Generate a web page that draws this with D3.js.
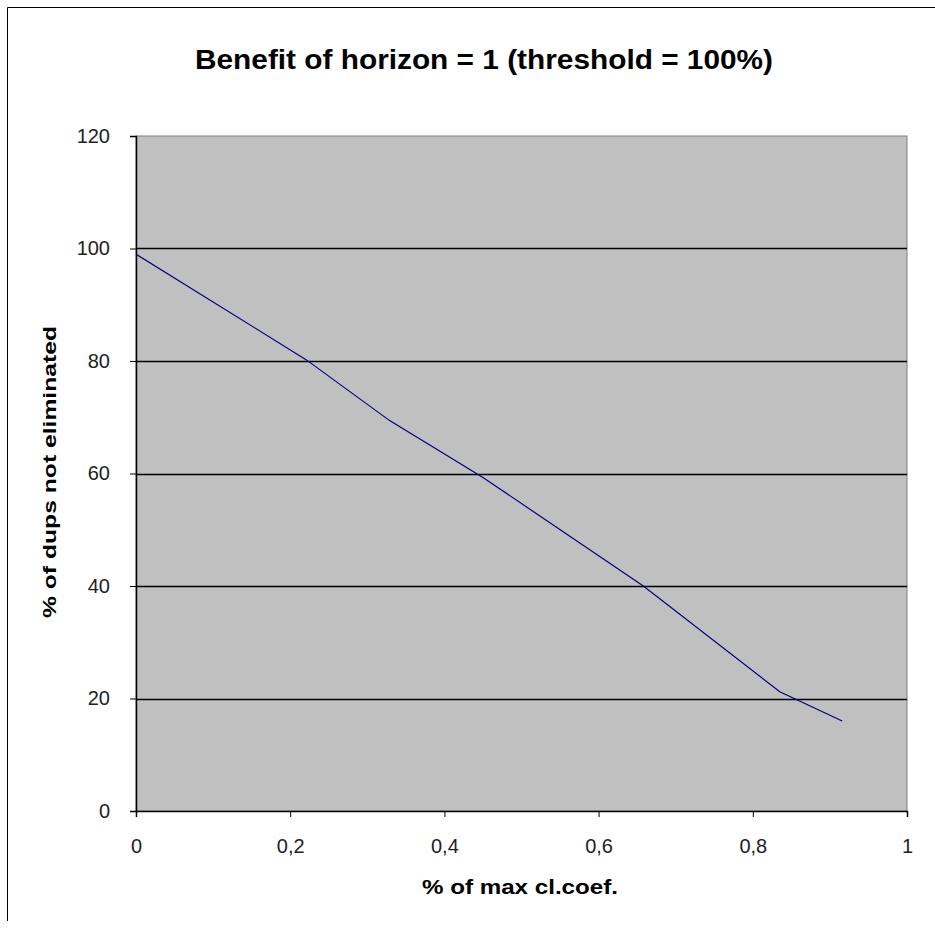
<!DOCTYPE html>
<html>
<head>
<meta charset="utf-8">
<script src="https://cdn.jsdelivr.net/npm/d3@7"></script>
<style>
  body { margin: 0; background: #fff; }
  text { font-family: "Liberation Sans", Arial, sans-serif; }
</style>
</head>
<body>
<svg id="chart" width="935" height="928"></svg>
<script>
// values
const clCoef = [0, 0.221, 0.329, 0.45, 0.658, 0.835, 0.916]
const dupsLeft = [99, 80.2, 69.4, 59.3, 40, 21.2, 16]
const xTicks = [0, 0.2, 0.4, 0.6, 0.8, 1]
const yTicks = [0, 20, 40, 60, 80, 100, 120]

const svg = d3.select('#chart')

// outer frame (only left and top are visible in the picture)
svg.append('path')
    .attr('d', 'M7.5,921 L7.5,7.5 L935,7.5')
    .attr('fill', 'none')
    .attr('stroke', '#000')

const x = d3.scaleLinear().domain([0, 1]).range([136, 907])
const y = d3.scaleLinear().domain([0, 120]).range([811, 136])

// plot area
svg.append('rect')
    .attr('x', x(0)).attr('y', y(120))
    .attr('width', x(1) - x(0)).attr('height', y(0) - y(120))
    .attr('fill', '#c0c0c0')
    .attr('stroke', '#808080')

// grid lines
svg.append('g')
    .selectAll('line')
    .data(yTicks.filter(d => d > 0 && d < 120))
    .enter()
    .append('line')
        .attr('x1', x(0)).attr('x2', x(1))
        .attr('y1', d => Math.round(y(d)) + 0.5)
        .attr('y2', d => Math.round(y(d)) + 0.5)
        .attr('stroke', '#000')
        .attr('stroke-width', 1.5)

const fmt = d => d === 0 ? '0' : d === 1 ? '1' : d3.format('.1f')(d).replace('.', ',')

// x axis
const xaxis = d3.axisBottom(x).tickValues(xTicks).tickFormat(fmt).tickSize(6).tickPadding(22)
const gx = svg.append('g')
    .attr('transform', 'translate(0,' + y(0) + ')')
    .call(xaxis)
gx.select('.domain').attr('stroke', '#000').attr('stroke-width', 1.5)
gx.selectAll('text').attr('font-size', 20).attr('fill', '#222')
    .style('font-family', '"Liberation Sans Narrow", "Liberation Sans", Arial, sans-serif')

// y axis
const yaxis = d3.axisLeft(y).tickValues(yTicks).tickSize(6).tickPadding(20)
const gy = svg.append('g')
    .attr('transform', 'translate(' + x(0) + ',0)')
    .call(yaxis)
gy.select('.domain').attr('stroke', '#000').attr('stroke-width', 1.5)
gy.selectAll('text').attr('font-size', 20).attr('fill', '#222')
    .style('font-family', '"Liberation Sans Narrow", "Liberation Sans", Arial, sans-serif')

// the series
const line = d3.line()
    .x((d, i) => x(clCoef[i]))
    .y(d => y(d))
svg.append('path')
    .datum(dupsLeft)
    .attr('d', line)
    .attr('fill', 'none')
    .attr('stroke', '#000080')
    .attr('stroke-width', 1.2)

// titles
svg.append('text')
    .attr('x', 484).attr('y', 69)
    .attr('text-anchor', 'middle')
    .attr('font-size', 27)
    .attr('font-weight', 'bold')
    .attr('textLength', 578)
    .attr('lengthAdjust', 'spacingAndGlyphs')
    .text('Benefit of horizon = 1 (threshold = 100%)')

svg.append('text')
    .attr('x', 520).attr('y', 894)
    .attr('text-anchor', 'middle')
    .attr('font-size', 20)
    .attr('font-weight', 'bold')
    .attr('textLength', 196)
    .attr('lengthAdjust', 'spacingAndGlyphs')
    .text('% of max cl.coef.')

svg.append('text')
    .attr('transform', 'translate(56,472) rotate(-90)')
    .attr('text-anchor', 'middle')
    .attr('font-size', 19)
    .attr('font-weight', 'bold')
    .attr('textLength', 292)
    .attr('lengthAdjust', 'spacingAndGlyphs')
    .text('% of dups not eliminated')
</script>
</body>
</html>
